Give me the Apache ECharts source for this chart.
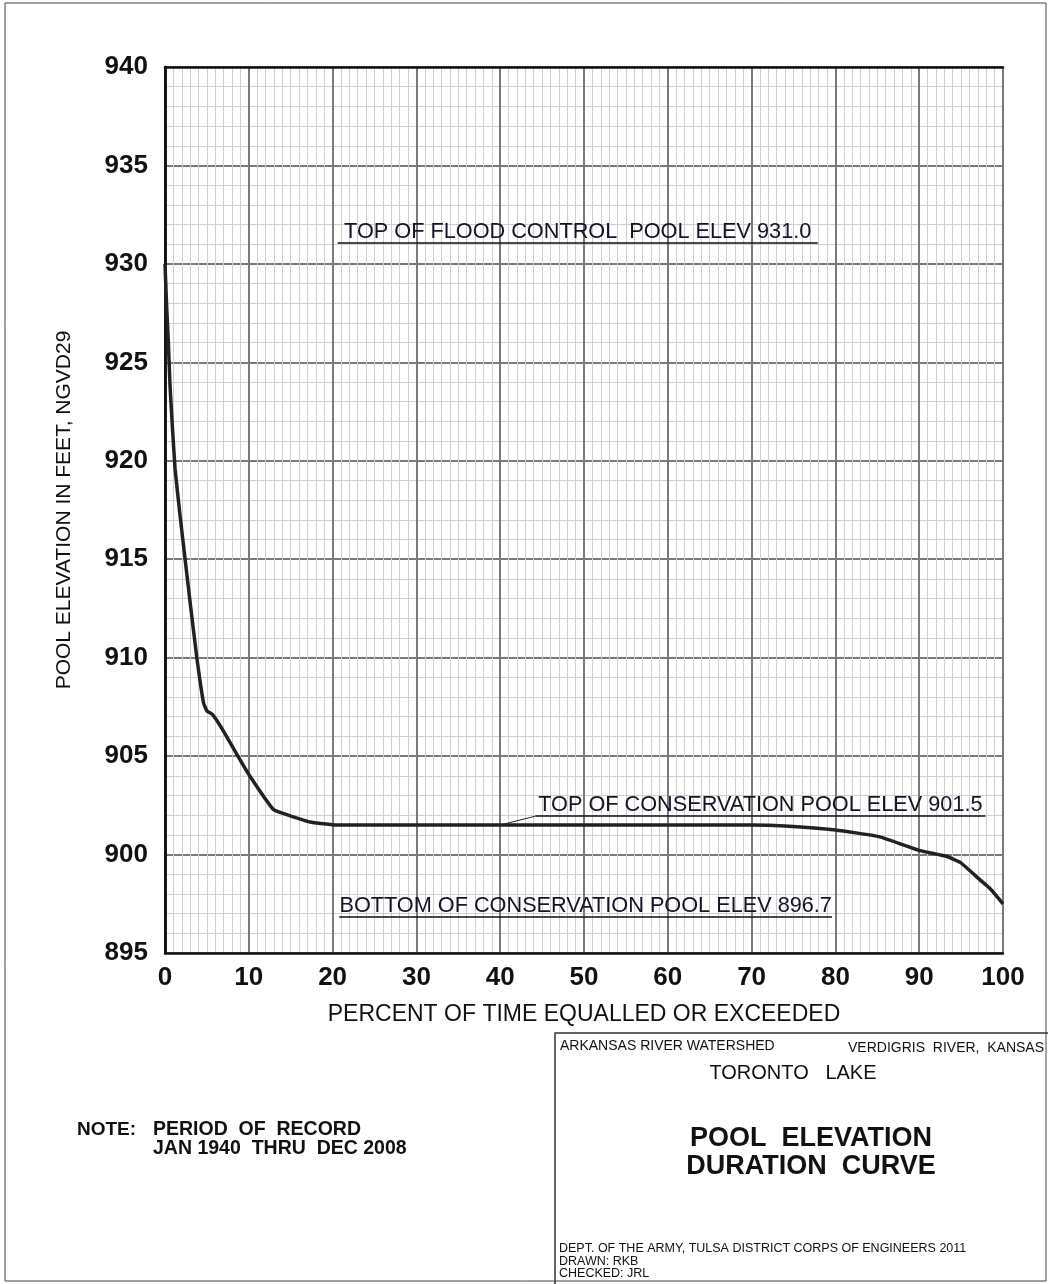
<!DOCTYPE html>
<html>
<head>
<meta charset="utf-8">
<title>Pool Elevation Duration Curve - Toronto Lake</title>
<script src="https://cdn.jsdelivr.net/npm/echarts@6/dist/echarts.min.js"></script>
<style>
  html, body { margin: 0; padding: 0; background: #fff; }
  #chart { width: 1050px; height: 1284px; }
</style>
</head>
<body>
<div id="chart"></div>
<script>
// percent of time equalled or exceeded
var pct = [0, 0.2, 0.4, 0.6, 0.9, 1.2, 1.8, 2.4, 3.0, 3.8, 4.6, 5.0, 5.7, 6.8, 8.7, 10.1, 12.9, 14.0, 17.3, 20.5,
           30, 40, 50, 60, 70, 74, 80, 85.3, 90.1, 93.3, 94.9, 97.3, 98.4, 100];
// pool elevation, ft NGVD29
var elev = [930.0, 927.8, 926.0, 923.8, 921.6, 919.6, 917.2, 915.0, 912.8, 910.0, 907.7, 907.3, 907.1, 906.4, 905.0, 904.0, 902.3, 902.1, 901.65, 901.5,
            901.5, 901.5, 901.5, 901.5, 901.5, 901.45, 901.25, 900.9, 900.2, 899.9, 899.6, 898.7, 898.3, 897.5];

// pool level notes (text, elevation of underline, underline start/end in percent)
var noteText = ['TOP OF FLOOD CONTROL  POOL ELEV 931.0', 'TOP OF CONSERVATION POOL ELEV 901.5', 'BOTTOM OF CONSERVATION POOL ELEV 896.7'];
var noteElev = [931.05, 901.95, 896.85];
var noteFrom = [20.6, 44.2, 20.8];
var noteTo = [77.9, 97.9, 79.6];
// leader from curve to the conservation pool note
var leaderPct = [40, 44.2];
var leaderElev = [901.5, 901.95];

var xTicks = [0, 100, 10];
var yTicks = [895, 940, 5];

var chart = echarts.init(document.getElementById('chart'));

var curve = pct.map(function (p, i) { return [p, elev[i]]; });
var leader = leaderPct.map(function (p, i) { return [p, leaderElev[i]]; });
var notes = noteText.map(function (t, i) {
  return [
    { coord: [noteFrom[i], noteElev[i]], label: { formatter: t } },
    { coord: [noteTo[i], noteElev[i]] }
  ];
});

var font = 'Liberation Sans, Arial, sans-serif';

var option = {
  backgroundColor: '#fff',
  animation: false,
  grid: { left: 165, top: 67, right: 47, bottom: 331 },
  xAxis: [{
    type: 'value', min: xTicks[0], max: xTicks[1], interval: xTicks[2],
    position: 'bottom',
    axisLine: { show: true, lineStyle: { color: '#111', width: 2.5 } },
    axisTick: { show: false },
    axisLabel: { margin: 12, color: '#111', fontSize: 26, fontWeight: 'bold', fontFamily: font },
    splitLine: { show: true, lineStyle: { color: '#7a7a7a', width: 2 } },
    minorTick: { show: false, splitNumber: 10 },
    minorSplitLine: { show: true, lineStyle: { color: '#cfcfcf', width: 1 } },
    name: 'PERCENT OF TIME EQUALLED OR EXCEEDED',
    nameLocation: 'middle', nameGap: 50,
    nameTextStyle: { color: '#111', fontSize: 23, fontFamily: font }
  }, {
    type: 'value', min: xTicks[0], max: xTicks[1], position: 'top',
    axisLine: { show: true, lineStyle: { color: '#111', width: 2.5 } },
    axisTick: { show: false }, axisLabel: { show: false }, splitLine: { show: false }
  }],
  yAxis: [{
    type: 'value', min: yTicks[0], max: yTicks[1], interval: yTicks[2],
    position: 'left',
    axisLine: { show: true, lineStyle: { color: '#111', width: 2.5 } },
    axisTick: { show: false },
    axisLabel: { margin: 17, color: '#111', fontSize: 26, fontWeight: 'bold', fontFamily: font },
    splitLine: { show: true, lineStyle: { color: '#7a7a7a', width: 2 } },
    minorTick: { show: false, splitNumber: 5 },
    minorSplitLine: { show: true, lineStyle: { color: '#cfcfcf', width: 1 } },
    name: 'POOL ELEVATION IN FEET, NGVD29',
    nameLocation: 'middle', nameGap: 90,
    nameTextStyle: { color: '#111', fontSize: 21, fontFamily: font }
  }, {
    type: 'value', min: yTicks[0], max: yTicks[1], position: 'right',
    axisLine: { show: true, lineStyle: { color: '#111', width: 2.5 } },
    axisTick: { show: false }, axisLabel: { show: false }, splitLine: { show: false }
  }],
  series: [{
    type: 'line',
    data: curve,
    showSymbol: false,
    smooth: 0.12,
    lineStyle: { color: '#222', width: 3.5 },
    z: 5
  }, {
    type: 'line',
    data: leader,
    showSymbol: false,
    lineStyle: { color: '#222', width: 1 },
    z: 4
  }, {
    type: 'line',
    data: [],
    markLine: {
      silent: true,
      symbol: ['none', 'none'],
      lineStyle: { color: '#111', width: 1.5, type: 'solid' },
      label: {
        show: true, position: 'insideMiddleTop', distance: 0,
        color: '#141428', fontSize: 21.7, fontFamily: font
      },
      data: notes
    }
  }],
  graphic: [
    { type: 'rect', shape: { x: 5, y: 3, width: 1041, height: 1278 },
      style: { fill: null, stroke: '#444', lineWidth: 1 }, silent: true },
    { type: 'polyline', shape: { points: [[555, 1284], [555, 1033], [1048, 1033]] },
      style: { fill: null, stroke: '#333', lineWidth: 1.5 } },
    { type: 'text', left: 77, top: 1120,
      style: { text: 'NOTE:', fill: '#111', font: 'bold 19px ' + font } },
    { type: 'text', left: 153, top: 1120,
      style: { text: 'PERIOD  OF  RECORD', fill: '#111', font: 'bold 19.5px ' + font } },
    { type: 'text', left: 153, top: 1139,
      style: { text: 'JAN 1940  THRU  DEC 2008', fill: '#111', font: 'bold 19.5px ' + font } },
    { type: 'text', left: 560, top: 1039,
      style: { text: 'ARKANSAS RIVER WATERSHED', fill: '#111', font: '14px ' + font } },
    { type: 'text', left: 848, top: 1041,
      style: { text: 'VERDIGRIS  RIVER,  KANSAS', fill: '#111', font: '14px ' + font } },
    { type: 'text', x: 793, y: 1073,
      style: { text: 'TORONTO   LAKE', fill: '#111', font: '20px ' + font, align: 'center', verticalAlign: 'middle' } },
    { type: 'text', x: 811, y: 1139,
      style: { text: 'POOL  ELEVATION', fill: '#111', font: 'bold 27px ' + font, align: 'center', verticalAlign: 'middle' } },
    { type: 'text', x: 811, y: 1167,
      style: { text: 'DURATION  CURVE', fill: '#111', font: 'bold 27px ' + font, align: 'center', verticalAlign: 'middle' } },
    { type: 'text', left: 559, top: 1242,
      style: { text: 'DEPT. OF THE ARMY, TULSA DISTRICT CORPS OF ENGINEERS 2011', fill: '#111', font: '12.5px ' + font } },
    { type: 'text', left: 559, top: 1255,
      style: { text: 'DRAWN: RKB', fill: '#111', font: '12.5px ' + font } },
    { type: 'text', left: 559, top: 1267,
      style: { text: 'CHECKED: JRL', fill: '#111', font: '12.5px ' + font } }
  ]
};

chart.setOption(option);
</script>
</body>
</html>
